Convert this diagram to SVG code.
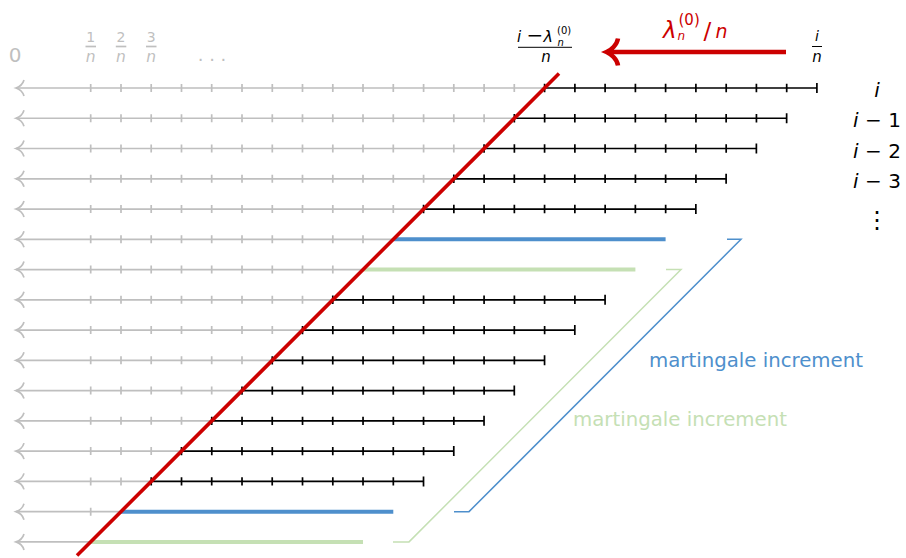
<svg xmlns="http://www.w3.org/2000/svg" width="906" height="558" viewBox="0 0 906 558">
<style>
.g{fill:none;stroke:#bfbfbf;stroke-width:1.7}
.k{fill:none;stroke:#000;stroke-width:1.7}
.bl{fill:none;stroke:#4e8fcc;stroke-width:4}
.gr{fill:none;stroke:#c5e0b4;stroke-width:4}
.blt{fill:none;stroke:#4e8fcc;stroke-width:1.5}
.grt{fill:none;stroke:#c5e0b4;stroke-width:1.5}
.red{fill:none;stroke:#cc0000;stroke-width:3.6}
text{font-family:"DejaVu Sans","Liberation Sans",sans-serif}
.it{font-style:italic}
.gt{fill:#bfbfbf}
.rt{fill:#cc0000}
</style>
<defs>
<path id="ah" class="g" d="M24 -8C22.8 -4 19 -1 16 0C19 1 22.8 4 24 8"/>
<g id="blk"><path class="k" d="M544.6 0H816.9M544.6-4.2v8.4M574.9-4.2v8.4M605.1-4.2v8.4M635.4-4.2v8.4M665.6-4.2v8.4M695.9-4.2v8.4M726.2-4.2v8.4M756.4-4.2v8.4M786.7-4.2v8.4M816.9-5v10"/></g>
</defs>

<g id="gray-rows">
<g id="row0" transform="translate(0 88)"><use href="#ah"/><path class="g" d="M16 0H544.6M90.7-4v8M121-4v8M151.2-4v8M181.5-4v8M211.7-4v8M242-4v8M272.3-4v8M302.5-4v8M332.8-4v8M363-4v8M393.3-4v8M423.6-4v8M453.8-4v8M484.1-4v8M514.3-4v8"/></g>
<g id="row1" transform="translate(0 118.26)"><use href="#ah"/><path class="g" d="M16 0H514.3M90.7-4v8M121-4v8M151.2-4v8M181.5-4v8M211.7-4v8M242-4v8M272.3-4v8M302.5-4v8M332.8-4v8M363-4v8M393.3-4v8M423.6-4v8M453.8-4v8M484.1-4v8"/></g>
<g id="row2" transform="translate(0 148.52)"><use href="#ah"/><path class="g" d="M16 0H484.1M90.7-4v8M121-4v8M151.2-4v8M181.5-4v8M211.7-4v8M242-4v8M272.3-4v8M302.5-4v8M332.8-4v8M363-4v8M393.3-4v8M423.6-4v8M453.8-4v8"/></g>
<g id="row3" transform="translate(0 178.78)"><use href="#ah"/><path class="g" d="M16 0H453.8M90.7-4v8M121-4v8M151.2-4v8M181.5-4v8M211.7-4v8M242-4v8M272.3-4v8M302.5-4v8M332.8-4v8M363-4v8M393.3-4v8M423.6-4v8"/></g>
<g id="row4" transform="translate(0 209.04)"><use href="#ah"/><path class="g" d="M16 0H423.6M90.7-4v8M121-4v8M151.2-4v8M181.5-4v8M211.7-4v8M242-4v8M272.3-4v8M302.5-4v8M332.8-4v8M363-4v8M393.3-4v8"/></g>
<g id="row5" transform="translate(0 239.3)"><use href="#ah"/><path class="g" d="M16 0H393.3M90.7-4v8M121-4v8M151.2-4v8M181.5-4v8M211.7-4v8M242-4v8M272.3-4v8M302.5-4v8M332.8-4v8M363-4v8"/></g>
<g id="row6" transform="translate(0 269.56)"><use href="#ah"/><path class="g" d="M16 0H363M90.7-4v8M121-4v8M151.2-4v8M181.5-4v8M211.7-4v8M242-4v8M272.3-4v8M302.5-4v8M332.8-4v8"/></g>
<g id="row7" transform="translate(0 299.82)"><use href="#ah"/><path class="g" d="M16 0H332.8M90.7-4v8M121-4v8M151.2-4v8M181.5-4v8M211.7-4v8M242-4v8M272.3-4v8M302.5-4v8"/></g>
<g id="row8" transform="translate(0 330.08)"><use href="#ah"/><path class="g" d="M16 0H302.5M90.7-4v8M121-4v8M151.2-4v8M181.5-4v8M211.7-4v8M242-4v8M272.3-4v8"/></g>
<g id="row9" transform="translate(0 360.34)"><use href="#ah"/><path class="g" d="M16 0H272.3M90.7-4v8M121-4v8M151.2-4v8M181.5-4v8M211.7-4v8M242-4v8"/></g>
<g id="row10" transform="translate(0 390.6)"><use href="#ah"/><path class="g" d="M16 0H242M90.7-4v8M121-4v8M151.2-4v8M181.5-4v8M211.7-4v8"/></g>
<g id="row11" transform="translate(0 420.86)"><use href="#ah"/><path class="g" d="M16 0H211.7M90.7-4v8M121-4v8M151.2-4v8M181.5-4v8"/></g>
<g id="row12" transform="translate(0 451.12)"><use href="#ah"/><path class="g" d="M16 0H181.5M90.7-4v8M121-4v8M151.2-4v8"/></g>
<g id="row13" transform="translate(0 481.38)"><use href="#ah"/><path class="g" d="M16 0H151.2M90.7-4v8M121-4v8"/></g>
<g id="row14" transform="translate(0 511.64)"><use href="#ah"/><path class="g" d="M16 0H121M90.7-4v8"/></g>
<g id="row15" transform="translate(0 541.9)"><use href="#ah"/><path class="g" d="M16 0H90.7"/></g>
</g>

<g id="black-segments">
<use href="#blk" transform="translate(0 88)"/>
<use href="#blk" transform="translate(-30.26 118.26)"/>
<use href="#blk" transform="translate(-60.52 148.52)"/>
<use href="#blk" transform="translate(-90.78 178.78)"/>
<use href="#blk" transform="translate(-121.04 209.04)"/>
<use href="#blk" transform="translate(-211.82 299.82)"/>
<use href="#blk" transform="translate(-242.08 330.08)"/>
<use href="#blk" transform="translate(-272.34 360.34)"/>
<use href="#blk" transform="translate(-302.6 390.6)"/>
<use href="#blk" transform="translate(-332.86 420.86)"/>
<use href="#blk" transform="translate(-363.12 451.12)"/>
<use href="#blk" transform="translate(-393.38 481.38)"/>
</g>

<g id="increments">
<path class="bl" d="M393.3 239.3H665.6"/>
<path class="gr" d="M363 269.56H635.4"/>
<path class="bl" d="M121 511.64H393.3"/>
<path class="gr" d="M90.7 541.9H363"/>
</g>

<g id="connectors">
<path id="red-line" class="red" d="M77 555.6L559 73.6"/>
<path id="red-arrow" fill="none" stroke="#cc0000" stroke-width="4.5" d="M609 52H786M618 38.5C617 45 611 50 606.5 52C611 54 617 59 618 65.5"/>
<path id="brace-blue" class="blt" d="M727 239.3H741L469 511.64H454"/>
<path id="brace-green" class="grt" d="M666 269.56H681L409 541.9H393"/>
</g>

<g id="top-labels">
<text class="gt" x="15" y="62" font-size="20" text-anchor="middle">0</text>
<g id="frac1"><text class="gt" x="90.7" y="41.5" font-size="14" text-anchor="middle">1</text><path class="g" stroke-width="1" d="M85.5 46.5H96"/><text class="gt it" x="90.7" y="61.5" font-size="15.5" text-anchor="middle">n</text></g>
<g id="frac2"><text class="gt" x="121" y="41.5" font-size="14" text-anchor="middle">2</text><path class="g" stroke-width="1" d="M115.8 46.5H126.3"/><text class="gt it" x="121" y="61.5" font-size="15.5" text-anchor="middle">n</text></g>
<g id="frac3"><text class="gt" x="151.2" y="41.5" font-size="14" text-anchor="middle">3</text><path class="g" stroke-width="1" d="M146 46.5H156.5"/><text class="gt it" x="151.2" y="61.5" font-size="15.5" text-anchor="middle">n</text></g>
<text class="gt" x="212" y="61" font-size="18" text-anchor="middle">. . .</text>
<g id="frac-lambda">
<text font-size="15"><tspan class="it" x="517" y="41.5">i</tspan><tspan x="526.5" y="41.5" font-size="20">−</tspan><tspan class="it" x="543.5" y="42" font-size="16">λ</tspan><tspan x="557" y="33.5" font-size="10">(0)</tspan><tspan class="it" x="557.5" y="45.5" font-size="10">n</tspan></text>
<path stroke="#000" stroke-width="1" d="M518 47.3H572"/>
<text class="it" x="546" y="62" font-size="15" text-anchor="middle">n</text>
</g>
<g id="frac-i">
<text class="it" x="817" y="40.5" font-size="14" text-anchor="middle">i</text>
<path stroke="#000" stroke-width="1" d="M812 46.5H822"/>
<text class="it" x="817" y="62" font-size="15" text-anchor="middle">n</text>
</g>
<g id="red-label">
<text class="rt" font-size="23"><tspan class="it" x="663" y="37.5">λ</tspan><tspan x="678.5" y="25" font-size="15">(0)</tspan><tspan class="it" x="677.5" y="40" font-size="12">n</tspan><tspan x="703.5" y="38.5">/</tspan><tspan class="it" x="715.5" y="38" font-size="19">n</tspan></text>
</g>
</g>

<g id="row-labels" font-size="20">
<text class="it" x="877" y="97" text-anchor="middle">i</text>
<text x="877" y="127.3" text-anchor="middle"><tspan class="it">i</tspan> − 1</text>
<text x="877" y="157.5" text-anchor="middle"><tspan class="it">i</tspan> − 2</text>
<text x="877" y="187.8" text-anchor="middle"><tspan class="it">i</tspan> − 3</text>
<text x="877" y="228" font-size="24" text-anchor="middle">⋮</text>
</g>

<g id="increment-labels" font-size="19">
<text x="649" y="367" fill="#4e8fcc" textLength="214" lengthAdjust="spacingAndGlyphs">martingale increment</text>
<text x="573" y="426" fill="#c5e0b4" textLength="214" lengthAdjust="spacingAndGlyphs">martingale increment</text>
</g>
</svg>
